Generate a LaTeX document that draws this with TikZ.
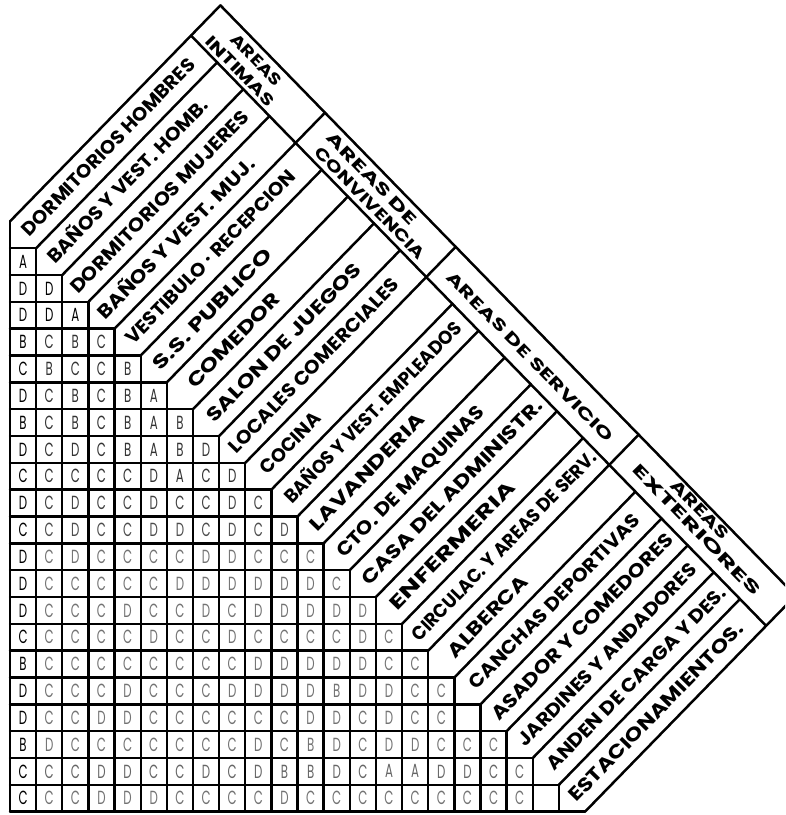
\documentclass[tikz,border=0pt]{standalone}
\usepackage{fontspec}
\setmainfont{Poppins}
\usepackage{graphicx}
\newsavebox\lbox
\newcommand\fitw[2]{\sbox\lbox{#2}\pgfmathsetmacro\sfac{#1/\the\wd\lbox}\scalebox{\sfac}[1]{\usebox\lbox}}
\tikzset{
  gridline/.style={line width=2.4pt, line cap=round},
  diagline/.style={line width=2.5pt, line cap=round},
  itemlab/.style={anchor=west, inner sep=0pt, rotate=45.74, text height=13pt, text depth=0pt, font=\fontsize{19}{19}\selectfont\bfseries},
  headlab/.style={anchor=center, inner sep=0pt, rotate=-45.74, text height=11pt, text depth=0pt, font=\fontsize{16}{16}\selectfont\bfseries},
  cell/.style={inner sep=0pt, font=\fontsize{19}{19}\selectfont}
}
\newcommand\itemlab[4]{\node[itemlab] (it#1) at ({(2*#1-2+#2)/2},{(2*#1-2-#2)/2}) {\fitw{#3}{#4}};}
\newcommand\headlab[5]{\node[headlab] (#1) at ({(#3+#2)/2},{(#3-#2)/2}) {\fitw{#4}{#5}};}
\newcommand\rowcells[4]{%
  \node[cell,text=black] (c#1-1) at (0.5,#1-0.5) {\scalebox{0.62}[1]{#3}};
  \foreach \c [count=\jj from 2] in {#4} {\node[cell,text=#2] (c#1-\jj) at (\jj-0.5,#1-0.5) {\scalebox{0.62}[1]{\c}};}}
\begin{document}
\begin{tikzpicture}[x=26.14pt,y=-26.83pt]
\useasboundingbox (-0.3826,-9.2508) rectangle (29.648,21.1256);
\clip (-0.3826,-9.2508) rectangle (29.648,21.1256);
\fill[white] (-0.3826,-9.2508) rectangle (29.648,21.1256);
% grid
\foreach \i in {0,...,21} {\pgfmathtruncatemacro\e{\i+1}\draw[gridline] (0,\i) -- (\e,\i);}
\foreach \j in {0,...,21} {\pgfmathtruncatemacro\s{\j-1}\draw[gridline] (\j,\s) -- (\j,21);}
% diagonal strips
\foreach \k in {0,...,22} {
  \pgfmathsetmacro\cc{(\k==0||\k==4||\k==9||\k==16||\k==22) ? 17.1 : 14.85}
  \draw[diagline] (\k,\k-1) -- ({(2*\k-1+\cc)/2},{(2*\k-1-\cc)/2});
}
\draw[diagline] (6.925,-7.925) -- (28.925,14.075);
\draw[diagline] (8.05,-9.05) -- (30.05,12.95);
% item labels
\itemlab{1}{1.14}{239}{DORMITORIOS HOMBRES}
\itemlab{2}{1.09}{221}{BAÑOS Y VEST. HOMB.}
\itemlab{3}{0.85}{247}{DORMITORIOS MUJERES}
\itemlab{4}{0.95}{216}{BAÑOS Y VEST. MUJ.}
\itemlab{5}{1.06}{235}{VESTIBULO · RECEPCION}
\itemlab{6}{1.13}{162}{S.S. PUBLICO}
\itemlab{7}{1.79}{124}{COMEDOR}
\itemlab{8}{1.25}{213}{SALON DE JUEGOS}
\itemlab{9}{0.96}{235}{LOCALES COMERCIALES}
\itemlab{10}{1.37}{78}{COCINA}
\itemlab{11}{1.21}{245}{BAÑOS Y VEST. EMPLEADOS}
\itemlab{12}{1.17}{155}{LAVANDERIA}
\itemlab{13}{1.19}{203}{CTO. DE MAQUINAS}
\itemlab{14}{1.11}{251}{CASA DEL ADMINISTR.}
\itemlab{15}{1.25}{171}{ENFERMERIA}
\itemlab{16}{0.97}{256}{CIRCULAC. Y AREAS DE SERV.}
\itemlab{17}{1.70}{106}{ALBERCA}
\itemlab{18}{1.36}{236}{CANCHAS DEPORTIVAS}
\itemlab{19}{1.05}{252}{ASADOR Y COMEDORES}
\itemlab{20}{1.08}{247}{JARDINES Y ANDADORES}
\itemlab{21}{1.30}{248}{ANDEN DE CARGA Y DES.}
\itemlab{22}{0.98}{241}{ESTACIONAMIENTOS.}
% group headers
\headlab{h1a}{16.44}{2.42}{66}{AREAS}
\headlab{h1b}{15.39}{2.21}{91}{INTIMAS}
\headlab{h2a}{16.45}{11.25}{122}{AREAS DE}
\headlab{h2b}{15.44}{12.10}{150}{CONVIVENCIA}
\headlab{h3}{15.84}{23.94}{230}{AREAS DE SERVICIO}
\headlab{h4a}{16.64}{36.16}{76}{AREAS}
\headlab{h4b}{15.76}{36.76}{176}{EXTERIORES}
% cells
\node[cell,text=black] (c1-1) at (0.5,0.5) {\scalebox{0.62}[1]{A}};
\rowcells{2}{black}{D}{D}
\rowcells{3}{black}{D}{D,A}
\rowcells{4}{black!80}{B}{C,B,C}
\rowcells{5}{black!80}{C}{B,C,C,B}
\rowcells{6}{black!80}{D}{C,B,C,B,A}
\rowcells{7}{black!80}{B}{C,B,C,B,A,B}
\rowcells{8}{black!80}{D}{C,D,C,B,A,B,D}
\rowcells{9}{black!80}{C}{C,C,C,C,D,A,C,D}
\rowcells{10}{black!75}{D}{C,D,C,C,D,C,C,D,C}
\rowcells{11}{black!70}{C}{C,D,C,C,D,D,C,D,C,D}
\rowcells{12}{black!55}{D}{C,D,C,C,C,C,D,D,C,C,C}
\rowcells{13}{black!55}{D}{C,C,C,C,C,D,D,D,D,D,D,C}
\rowcells{14}{black!55}{D}{C,C,C,D,C,C,D,C,D,D,D,D,D}
\rowcells{15}{black!55}{C}{C,C,C,C,D,C,C,D,C,C,C,C,D,C}
\rowcells{16}{black!55}{B}{C,C,C,C,C,C,C,C,D,D,D,D,D,C,C}
\rowcells{17}{black!55}{D}{C,C,C,D,C,C,C,D,D,D,D,B,D,D,C,C}
\rowcells{18}{black!55}{D}{C,C,D,D,C,C,C,C,C,C,D,D,C,D,C,C,{}}
\rowcells{19}{black!55}{B}{D,C,C,C,C,C,C,C,D,C,B,D,C,D,D,C,C,C}
\rowcells{20}{black!60}{C}{C,C,D,D,C,C,D,C,D,B,B,D,C,A,A,D,D,C,C}
\rowcells{21}{black!55}{C}{C,C,D,D,D,C,C,C,C,D,C,C,C,C,C,C,C,C,C,{}}
\end{tikzpicture}
\end{document}
